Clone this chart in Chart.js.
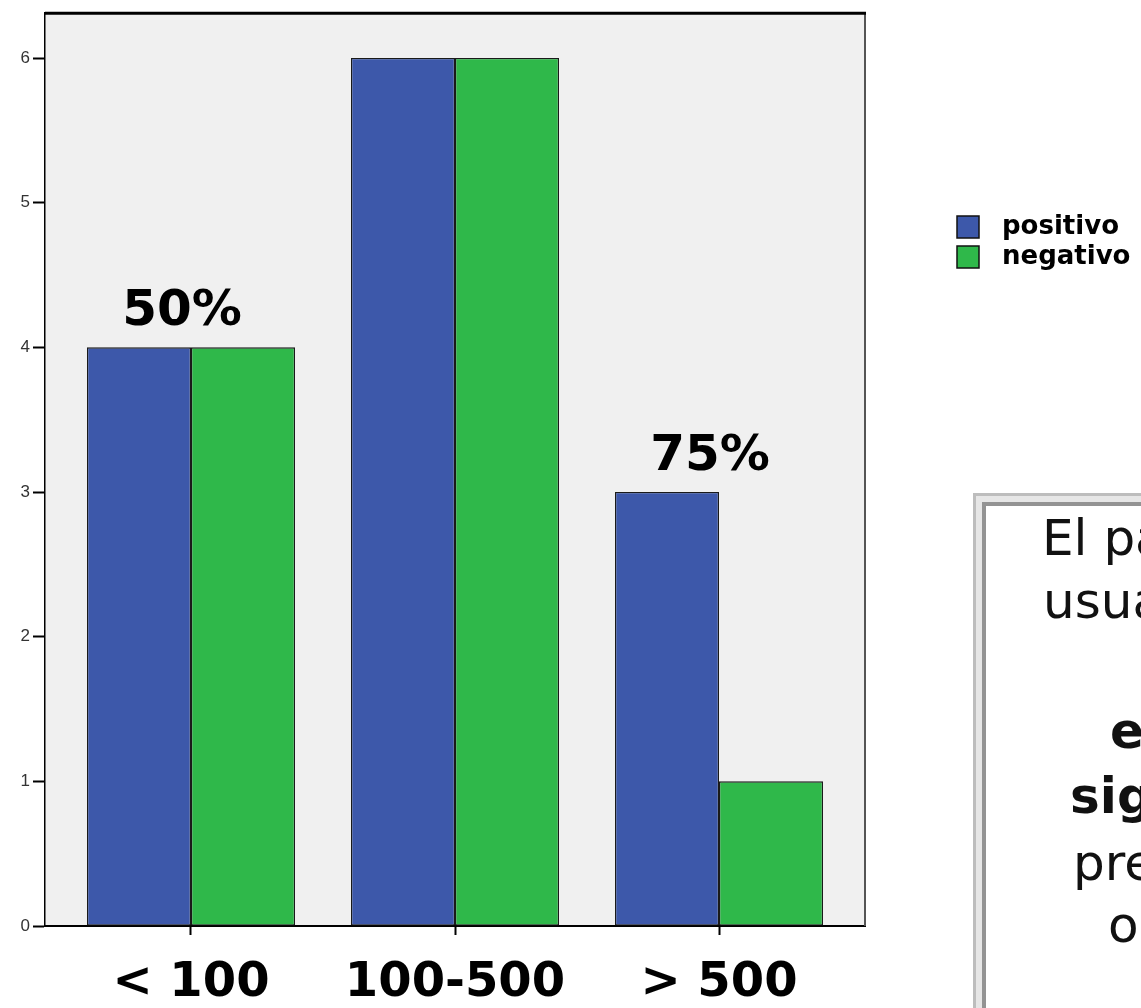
<!DOCTYPE html>
<html lang="es">
<head>
<meta charset="utf-8">
<title>positivo / negativo</title>
<script src="https://cdn.jsdelivr.net/npm/chart.js@4/dist/chart.umd.min.js"></script>
<style>
  html, body { margin: 0; padding: 0; background: #ffffff; width: 1141px; height: 1008px; overflow: hidden; }
  #chartBox { position: absolute; left: 0; top: 0; width: 1141px; height: 1008px; }
  /* framed text box, partly cut off at the right and bottom edges */
  .frame-outer { position: absolute; left: 973px; top: 493px; width: 220px; height: 560px;
                 border-left: 3px solid #bdbdbd; border-top: 3px solid #bdbdbd; background: #e6e6e6; }
  .frame-inner { position: absolute; left: 6px; top: 6px; right: 0; bottom: 0;
                 border-left: 4px solid #939393; border-top: 4px solid #939393; background: #ffffff; }
  .note { position: absolute; font-family: "DejaVu Sans", sans-serif; font-size: 50px; line-height: 50px;
          color: #111; white-space: nowrap; }
  .note.b { font-weight: bold; }
</style>
</head>
<body>
<div id="chartBox"><canvas id="chart" width="1141" height="1008"></canvas></div>

<div class="frame-outer"><div class="frame-inner"></div></div>
<span class="note"   style="left:1042px; top:513px;">El pa</span>
<span class="note"   style="left:1043px; top:576px;">usua</span>
<span class="note b" style="left:1110px; top:706px;">e</span>
<span class="note b" style="left:1070px; top:771px;">sig</span>
<span class="note"   style="left:1073px; top:838px;">pre</span>
<span class="note"   style="left:1108px; top:900px;">o</span>

<script>
// Counts per range
const categories = ['< 100', '100-500', '> 500'];
const positivo   = [4, 6, 3];
const negativo   = [4, 6, 1];
const yTicks     = [0, 1, 2, 3, 4, 5, 6];
// ranges that carry a "share of positives" label
const shareLabelCategories = ['< 100', '> 500'];

const BLUE  = '#3d58aa';
const GREEN = '#2fb84a';

// plot background fill
const plotBackground = {
  id: 'plotBackground',
  beforeDraw(chart) {
    const { ctx, chartArea: a } = chart;
    ctx.save();
    ctx.fillStyle = '#f0f0f0';
    ctx.fillRect(a.left, a.top, a.right - a.left, a.bottom - a.top);
    ctx.restore();
  }
};

// thick top rule and grey right rule of the plot frame
const plotFrame = {
  id: 'plotFrame',
  afterDraw(chart) {
    const { ctx, chartArea: a } = chart;
    ctx.save();
    ctx.strokeStyle = '#555555';
    ctx.lineWidth = 2;
    ctx.beginPath();
    ctx.moveTo(a.right, a.top);
    ctx.lineTo(a.right, a.bottom);
    ctx.stroke();
    ctx.strokeStyle = '#000000';
    ctx.lineWidth = 3;
    ctx.beginPath();
    ctx.moveTo(a.left, a.top);
    ctx.lineTo(a.right + 1, a.top);
    ctx.stroke();
    ctx.restore();
  }
};

// percentage of positives above selected groups
const shareLabels = {
  id: 'shareLabels',
  afterDatasetsDraw(chart, args, opts) {
    const { ctx } = chart;
    const xs = chart.scales.x, ys = chart.scales.y;
    const pos = chart.data.datasets[0].data, neg = chart.data.datasets[1].data;
    ctx.save();
    ctx.font = 'bold 50px "DejaVu Sans"';
    ctx.fillStyle = '#000';
    ctx.textAlign = 'center';
    ctx.textBaseline = 'alphabetic';
    categories.forEach((cat, i) => {
      if (!shareLabelCategories.includes(cat)) return;
      const p = pos[i].y, n = neg[i].y;
      const pct = Math.round(100 * p / (p + n)) + '%';
      const top = ys.getPixelForValue(Math.max(p, n));
      ctx.fillText(pct, xs.getPixelForValue(i) + opts.dx, top - opts.gap);
    });
    ctx.restore();
  }
};

// legend block to the right of the plot
const sideLegend = {
  id: 'sideLegend',
  afterDraw(chart, args, o) {
    const { ctx } = chart;
    ctx.save();
    ctx.font = 'bold ' + o.fontSize + 'px "DejaVu Sans"';
    ctx.textBaseline = 'middle';
    ctx.textAlign = 'left';
    chart.data.datasets.forEach((ds, i) => {
      const y = o.y + i * o.row;
      ctx.fillStyle = ds.backgroundColor;
      ctx.fillRect(o.x, y, o.box, o.box);
      ctx.strokeStyle = '#111';
      ctx.lineWidth = 1.5;
      ctx.strokeRect(o.x, y, o.box, o.box);
      ctx.fillStyle = '#000';
      ctx.fillText(ds.label, o.x + o.box + o.textGap, y + o.box / 2);
    });
    ctx.restore();
  }
};

new Chart(document.getElementById('chart'), {
  type: 'bar',
  data: {
    datasets: [
      { label: 'positivo', data: positivo.map((v, i) => ({ x: i, y: v })),
        backgroundColor: BLUE, borderColor: '#1a1a1a', borderWidth: 1.3, borderSkipped: false },
      { label: 'negativo', data: negativo.map((v, i) => ({ x: i, y: v })),
        backgroundColor: GREEN, borderColor: '#1a1a1a', borderWidth: 1.3, borderSkipped: false }
    ]
  },
  options: {
    responsive: false,
    animation: false,
    events: [],
    layout: { padding: { top: 13, right: 276, left: 0, bottom: 0 } },
    datasets: { bar: { categoryPercentage: 0.788, barPercentage: 1.0 } },
    scales: {
      x: {
        type: 'linear',
        offset: false,
        min: -0.553,
        max: 2.553,
        afterBuildTicks(scale) {
          scale.ticks = categories.map((c, i) => ({ value: i }));
        },
        afterFit(scale) { scale.height = 82; },
        grid: { offset: false, drawOnChartArea: false, drawTicks: true, tickLength: 9, tickColor: '#000', tickWidth: 2 },
        border: { display: true, color: '#000', width: 2 },
        ticks: {
          autoSkip: false,
          maxRotation: 0,
          padding: 20,
          color: '#000',
          font: { family: 'DejaVu Sans', size: 48, weight: 'bold' },
          callback: (v) => categories[v]
        }
      },
      y: {
        min: 0,
        max: 6.31,
        afterBuildTicks(scale) {
          scale.ticks = yTicks.map(v => ({ value: v }));
        },
        afterFit(scale) { scale.width = 45; },
        grid: { drawOnChartArea: false, drawTicks: true, tickLength: 12, tickColor: '#000', tickWidth: 2 },
        border: { display: true, color: '#000', width: 1.5 },
        ticks: {
          padding: 3,
          color: '#333',
          font: { family: 'Liberation Sans', size: 17 },
          callback: (v) => String(v)
        }
      }
    },
    plugins: {
      legend: { display: false },
      tooltip: { enabled: false },
      shareLabels: { dx: -9, gap: 22 },
      sideLegend: { x: 957, y: 216, box: 22, row: 30, textGap: 23, fontSize: 26 }
    }
  },
  plugins: [plotBackground, plotFrame, shareLabels, sideLegend]
});
</script>
</body>
</html>
